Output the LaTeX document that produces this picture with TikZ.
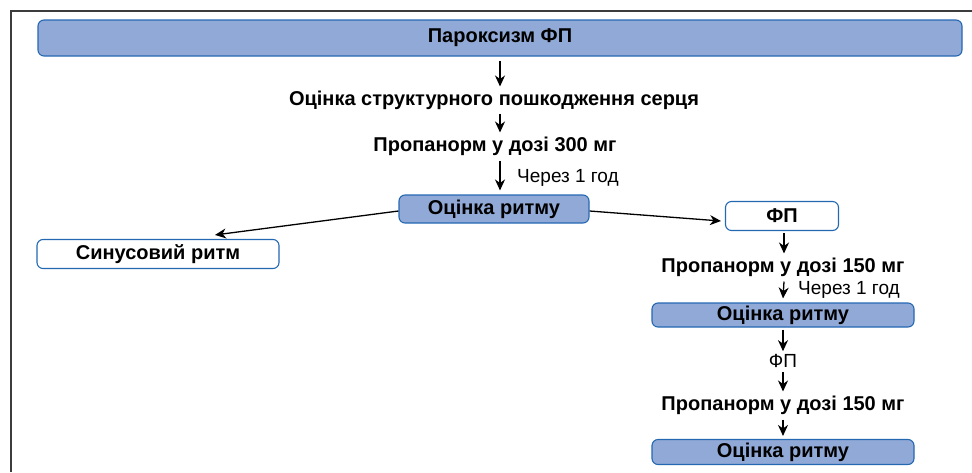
\documentclass[tikz,border=0pt]{standalone}
\usepackage{fontspec}
\setmainfont{Liberation Sans}
\usepackage{tikz}
\usetikzlibrary{
    arrows.meta,
    positioning,
    calc
}
\definecolor{BoxFill}{RGB}{145,169,214}
\definecolor{BoxLine}{RGB}{36,104,178}
\definecolor{FrameGray}{RGB}{60,60,60}
\tikzset{
  fbox/.style   = {draw=BoxLine, fill=BoxFill, line width=1.1pt, rounded corners=6pt,
                   align=center, font=\fontsize{20}{22}\selectfont\bfseries, inner sep=0pt},
  wbox/.style   = {draw=BoxLine, fill=white, line width=1.1pt, rounded corners=6pt,
                   align=center, font=\fontsize{20}{22}\selectfont\bfseries, inner sep=0pt},
  txt/.style    = {font=\fontsize{20}{22}\selectfont\bfseries, inner sep=0pt},
  ntxt/.style   = {font=\fontsize{19}{22}\selectfont, inner sep=0pt},
  arr/.style    = {-{Stealth[length=11pt,width=10pt,inset=3.5pt]}, line width=1.3pt, black}
}

\begin{document}
\begin{tikzpicture}[x=1pt,y=-1pt]
\useasboundingbox (0,0) rectangle (972,472);
\draw[FrameGray, line width=1.6pt] (11,472) -- (11,11) -- (972,11);
% left column
\node[fbox, minimum width=924pt, minimum height=36pt] (parox) at (500,38) {Пароксизм ФП};
\node[txt] (struct) at (494,100) {Оцінка структурного пошкодження серця};
\node[txt] (prop300) at (495,146) {Пропанорм у дозі 300 мг};
\node[ntxt, anchor=west] (after1) at (517,178) {Через 1 год};
\node[fbox, minimum width=190pt, minimum height=28pt] (rhythm) at (494,209) {Оцінка ритму};
\node[wbox, minimum width=242pt, minimum height=29pt] (sinus) at (158,254) {Синусовий ритм};
% right column
\node[wbox, minimum width=113pt, minimum height=29pt] (af) at (782,216) {ФП};
\node[txt] (prop150a) at (783,267) {Пропанорм у дозі 150 мг};
\node[ntxt, anchor=west] (after2) at (798,290) {Через 1 год};
\node[fbox, minimum width=262pt, minimum height=24pt] (rhythm2) at (783,315) {Оцінка ритму};
\node[ntxt] (af2) at (783,361) {ФП};
\node[txt] (prop150b) at (783,405) {Пропанорм у дозі 150 мг};
\node[fbox, minimum width=262pt, minimum height=25pt] (rhythm3) at (783,452) {Оцінка ритму};
% arrows
\draw[arr] ([yshift=-4pt]parox.south) -- ([yshift=4pt]parox.south |- struct.north);
\draw[arr] ([yshift=-4pt]parox.south |- struct.south) -- ([yshift=4pt]parox.south |- prop300.north);
\draw[arr] ([yshift=-5pt]parox.south |- prop300.south) -- ([yshift=4pt]parox.south |- rhythm.north);
\draw[arr] ([yshift=-2pt]rhythm.west) -- ([xshift=57pt,yshift=4pt]sinus.north);
\draw[arr] ([yshift=-2pt]rhythm.east) -- ([xshift=-4pt,yshift=-5pt]af.west);
\draw[arr] ([xshift=2pt,yshift=-2pt]af.south) -- ([xshift=2pt,yshift=4pt]af.south |- prop150a.north);
\draw[arr] ([xshift=2pt,yshift=-5pt]af.south |- prop150a.south) -- ([yshift=4pt]rhythm2.north);
\draw[arr] ([yshift=-2pt]rhythm2.south) -- ([yshift=3pt]af2.north);
\draw[arr] ([yshift=-4pt]af2.south) -- ([yshift=4pt]prop150b.north);
\draw[arr] ([yshift=-5pt]prop150b.south) -- ([yshift=3pt]rhythm3.north);
\end{tikzpicture}
\end{document}
